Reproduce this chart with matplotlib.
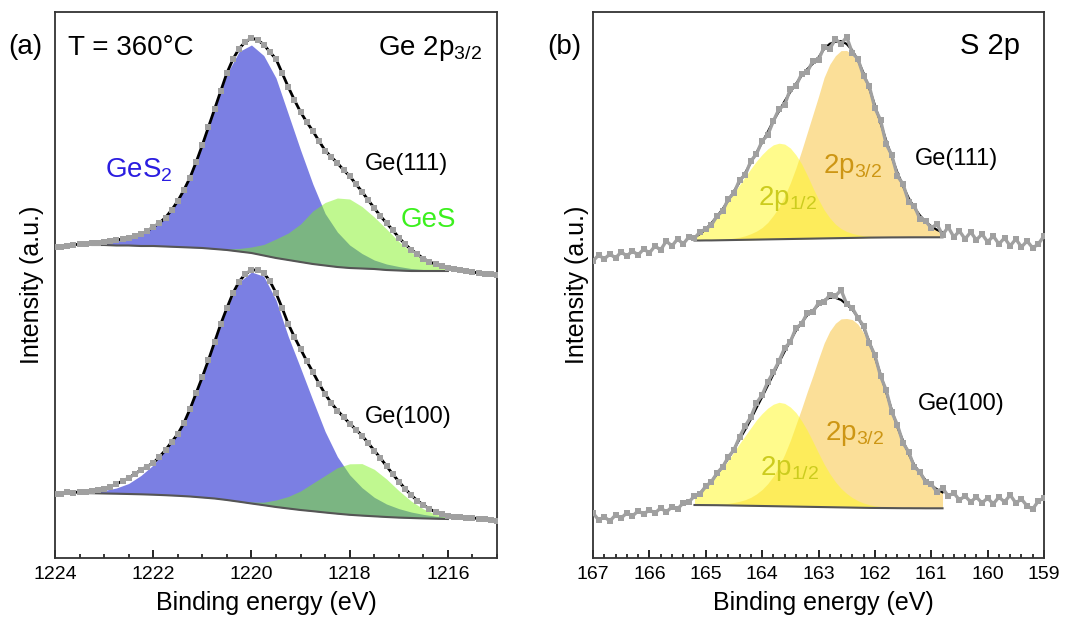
import matplotlib
matplotlib.use('Agg')
import matplotlib.pyplot as plt
import numpy as np
from matplotlib.ticker import MultipleLocator

plt.rcParams['font.family'] = ['Liberation Sans', 'DejaVu Sans']
plt.rcParams['mathtext.default'] = 'regular'

# ---------------- Ge 2p3/2 (panel a) ----------------
# fit grid (eV) and components, intensity in arbitrary units
ge_E_fit = np.linspace(1223.5, 1216.0, 31)
ge111_bg = [313.5, 313, 313, 312.5, 312.5, 312, 312, 311.5, 311, 310.5,
            310, 309, 308, 306.5, 305, 302.5, 300, 298, 296, 294,
            292.5, 291, 290, 289.5, 289, 288, 287.5, 287, 287, 287, 287]
ge111_ges2 = [1, 2, 3, 5, 8, 12, 19, 29, 46, 70,
              103, 140, 176, 200, 208, 200, 180, 146, 112, 80,
              52, 35, 23, 15, 9, 6, 4, 2.5, 1.5, 1, 0.5]
ge111_ges = [0, 0, 0, 0, 0, 0, 0, 0, 0, 0,
             0, 0, 1, 3, 6, 11, 19, 27, 38, 53,
             63, 69, 69, 62, 52, 41, 29, 19, 11, 6, 3]

ge100_bg = [65, 64.8, 64.5, 64.3, 64, 63.7, 63.3, 62.8, 62.2, 61.5,
            60.5, 59.5, 58, 56.3, 54.5, 52.8, 51, 49.5, 48, 46.8,
            45.5, 44.3, 43.2, 42.4, 41.7, 41, 40.4, 40, 39.6, 39.3, 39]
ge100_ges2 = [0.5, 1.5, 3, 5.7, 10.5, 18.8, 29.7, 45.2, 61.8, 87.5,
              120.5, 156.5, 192, 219.5, 231.5, 229, 207, 172, 142, 111,
              81, 57, 40, 28, 19, 13, 9, 6, 4, 2.5, 1.5]
ge100_ges = [0, 0, 0, 0, 0, 0, 0, 0, 0, 0,
             0, 0, 0.3, 0.7, 1.5, 3, 7, 12, 19, 28,
             37, 46, 51, 52, 47, 38, 27, 17, 9.5, 4.5, 2]

# measured spectra
ge_E_data = np.linspace(1224.0, 1215.0, 73)
ge111_data = [311, 311.5, 312, 313, 314, 314.5, 315, 315.5, 316, 317,
              318, 319, 320.5, 322, 324, 327, 331, 335, 340.5, 348,
              357, 368, 380.5, 396, 413, 431, 449, 467, 485, 499,
              509.5, 516, 520, 518, 513.5, 506, 499, 485, 471, 458,
              446, 436, 427, 417, 407.5, 401, 395, 388, 382, 374,
              366.5, 358, 350, 342, 335, 328, 320.5, 314, 308.5, 304,
              299.5, 296, 294, 292, 290.5, 289.5, 288, 287, 286, 285,
              284.5, 284, 283]
ge100_data = [64, 64.5, 66, 65.5, 66, 66.5, 67, 68, 69.5, 71.5,
              74, 77, 80, 84, 88, 91.5, 95, 101, 108, 116,
              124, 135, 149, 165, 181, 198, 216, 234, 250, 265,
              276.5, 284, 288, 288, 285, 277, 265, 250, 234, 221,
              209, 197, 186, 174.5, 164, 155, 147.5, 141, 134.5, 128.5,
              122.5, 115, 107.5, 100, 92, 84, 76.5, 69.5, 63, 57.5,
              53, 49, 46, 44, 42.5, 41.5, 41, 40.5, 40, 39.5,
              39, 38, 37]

# ---------------- S 2p (panel b) ----------------
s_E_fit = np.linspace(165.2, 160.8, 45)
s111_bg = [317.5, 317.5, 317.6, 317.6, 317.7, 317.8, 317.9, 318.0, 318.1, 318.2,
           318.3, 318.4, 318.5, 318.6, 318.7, 318.8, 318.9, 319.0, 319.1, 319.2,
           319.3, 319.4, 319.5, 319.6, 319.7, 319.8, 319.9, 320.0, 320.1, 320.2,
           320.3, 320.4, 320.45, 320.5, 320.55, 320.6, 320.62, 320.65, 320.68, 320.7,
           320.7, 320.7, 320.7, 320.7, 320.7]
s111_p12 = [3, 6.5, 11, 17, 23.5, 30.5, 38.5, 47, 55, 63,
            71, 78.5, 85, 90.5, 94.5, 96, 95, 91, 84, 75,
            63.5, 51, 39, 28.5, 20.5, 14, 9.5, 6.5, 4.5, 3,
            2, 1.4, 1, 0.7, 0.5, 0.4, 0.3, 0.2, 0.2, 0.1,
            0.1, 0.1, 0.1, 0, 0]
s111_p32 = [0.1, 0.1, 0.2, 0.3, 0.4, 0.7, 1.1, 1.8, 2.7, 4,
            6, 8.5, 12, 17, 24, 32, 43, 56, 71, 88,
            106, 124, 142, 161, 174, 182.5, 187.5, 187.5, 183, 174.5,
            162.5, 148, 131.5, 114, 96.5, 80, 64.5, 51, 39, 29.5,
            21.7, 15.5, 11, 7.5, 5]

s100_bg = [53.0, 52.95, 52.9, 52.85, 52.8, 52.7, 52.6, 52.5, 52.4, 52.3,
           52.2, 52.1, 52.0, 51.9, 51.8, 51.7, 51.6, 51.5, 51.4, 51.3,
           51.2, 51.1, 51.0, 50.9, 50.8, 50.7, 50.6, 50.5, 50.4, 50.3,
           50.2, 50.1, 50.05, 50.0, 49.95, 49.9, 49.85, 49.8, 49.8, 49.75,
           49.75, 49.7, 49.7, 49.7, 49.7]
s100_p12 = [8, 12, 17.5, 23.5, 30, 37.5, 45, 53.5, 62, 70,
            78, 86, 92.5, 98, 102, 104, 103, 99.5, 94, 86,
            76.5, 65.5, 54, 43, 33.5, 25.5, 19, 14, 10, 7,
            4.8, 3.2, 2.1, 1.4, 1, 0.7, 0.5, 0.4, 0.3, 0.2,
            0.15, 0.1, 0.1, 0.05, 0]
s100_p32 = [0.2, 0.3, 0.4, 0.6, 0.9, 1.3, 2, 3, 4.3, 6,
            8.5, 12, 16.5, 22.5, 30, 40, 52, 66, 82, 98,
            115, 131, 148, 164, 176, 184, 188.5, 189, 188, 183.5,
            175, 163.5, 149, 132.5, 115, 97.5, 80.5, 67, 54, 43,
            35, 28, 23, 19, 16]

s_E_data = np.linspace(167.0, 159.0, 81)
s111_data = [297, 303, 299, 304, 300, 306, 302, 307, 303, 309,
             305, 312, 308, 317, 312, 319, 314, 321, 320, 326,
             329, 333, 342, 347, 359, 365, 378, 383, 397, 404,
             417, 423, 437, 449, 453, 469, 472, 484, 486, 497,
             498, 511, 509, 519, 514, 521, 505, 499, 482, 472,
             450, 438, 414, 403, 382, 374, 356, 352, 339, 337,
             330, 334, 323, 331, 321, 327, 319, 326, 318, 324,
             316, 322, 314, 320, 312, 319, 311, 317, 310, 314,
             322]
s100_data = [45, 38, 41, 37, 43, 40, 45, 42, 47, 44,
             48, 45, 50, 46, 51, 49, 55, 56, 62, 64,
             72, 76, 85, 91, 101, 108, 121, 132, 141, 155,
             163, 176, 186, 197, 210, 216, 230, 234, 245, 246,
             255, 256, 263, 262, 268, 254, 250, 240, 232, 215,
             203, 182, 168, 146, 133, 115, 106, 91, 86, 76,
             74, 66, 70, 62, 65, 58, 62, 56, 61, 55,
             60, 54, 61, 56, 63, 55, 59, 52, 49, 57,
             60]

BLUE = '#7b7fe3'
GREEN = '#7cf218'
ORANGE = '#fbdf98'
YELLOW = '#fff926'
GRAY = '#a0a0a0'

fig = plt.figure(figsize=(10.7, 6.17), dpi=100)
ax_a = fig.add_axes([55/1070, 59/617, 442/1070, 546/617])
ax_b = fig.add_axes([593/1070, 59/617, 451/1070, 546/617])

# panel (a)
for bg, c1, c2, data in [(ge111_bg, ge111_ges2, ge111_ges, ge111_data),
                         (ge100_bg, ge100_ges2, ge100_ges, ge100_data)]:
    bg = np.array(bg)
    ax_a.fill_between(ge_E_fit, bg, bg + np.array(c1), color=BLUE, lw=0, zorder=1)
    ax_a.fill_between(ge_E_fit, bg, bg + np.array(c2), color=GREEN, alpha=0.48, lw=0, zorder=2)
    ax_a.plot(ge_E_fit, bg, color='#555555', lw=1.5, zorder=3)
    ax_a.plot(ge_E_data, data, color='black', lw=2, zorder=4)
    ax_a.plot(ge_E_data, data, 's', color=GRAY, ms=3.8, mew=0, zorder=5)

# panel (b)
for bg, p12, p32, data in [(s111_bg, s111_p12, s111_p32, s111_data),
                           (s100_bg, s100_p12, s100_p32, s100_data)]:
    bg = np.array(bg)
    ax_b.fill_between(s_E_fit, bg, bg + np.array(p32), color=ORANGE, lw=0, zorder=1)
    ax_b.fill_between(s_E_fit, bg, bg + np.array(p12), color=YELLOW, alpha=0.53, lw=0, zorder=2)
    ax_b.plot(s_E_fit, bg, color='#555555', lw=1.5, zorder=3)
    env = bg + np.array(p12) + np.array(p32)
    ax_b.plot(s_E_fit, env, color='black', lw=1.6, zorder=3.5)
    ax_b.plot(s_E_data, data, '-s', color=GRAY, lw=2.4, ms=4.5, mew=0, zorder=4)

ax_a.set_xlim(1224, 1215)
ax_a.xaxis.set_major_locator(MultipleLocator(2))
ax_a.xaxis.set_minor_locator(MultipleLocator(0.5))
ax_b.set_xlim(167, 159)
ax_b.xaxis.set_major_locator(MultipleLocator(1))
ax_b.xaxis.set_minor_locator(MultipleLocator(0.2))

for ax in (ax_a, ax_b):
    ax.set_ylim(0, 546)
    ax.set_yticks([])
    ax.tick_params(axis='x', which='major', direction='in', length=5.5, width=1.2,
                   labelsize=14, pad=6)
    ax.tick_params(axis='x', which='minor', direction='in', length=3, width=1.1)
    for sp in ax.spines.values():
        sp.set_linewidth(1.3)
        sp.set_color('#333333')
    ax.set_xlabel('Binding energy (eV)', fontsize=18, labelpad=2)

ax_a.set_ylabel('Intensity (a.u.)', fontsize=18, labelpad=8)
ax_b.set_ylabel('Intensity (a.u.)', fontsize=18, labelpad=3)
ax_a.xaxis.set_label_coords(0.478, -0.082)
ax_b.xaxis.set_label_coords(0.51, -0.082)
ax_a.xaxis.label.set_verticalalignment('center')
ax_b.xaxis.label.set_verticalalignment('center')

# annotations panel (a)
fig.text(8/1070, 1 - 47/617, '(a)', fontsize=20, va='center', ha='left')
ax_a.text(0.029, 0.921, 'T = 360\u00b0C', fontsize=20, transform=ax_a.transAxes, va='baseline')
ax_a.text(0.966, 0.921, 'Ge 2p$_{3/2}$', fontsize=20, transform=ax_a.transAxes,
          va='baseline', ha='right')
ax_a.text(0.113, 0.696, 'GeS$_2$', fontsize=20, color='#2b1de0', transform=ax_a.transAxes,
          va='baseline')
ax_a.text(0.781, 0.606, 'GeS', fontsize=20, color='#3cf01e', transform=ax_a.transAxes,
          va='baseline')
ax_a.text(0.701, 0.711, 'Ge(111)', fontsize=17, transform=ax_a.transAxes, va='baseline')
ax_a.text(0.701, 0.247, 'Ge(100)', fontsize=17, transform=ax_a.transAxes, va='baseline')

# annotations panel (b)
fig.text(547/1070, 1 - 47/617, '(b)', fontsize=20, va='center', ha='left')
ax_b.text(0.947, 0.923, 'S 2p', fontsize=21, transform=ax_b.transAxes, va='baseline', ha='right')
ax_b.text(0.714, 0.72, 'Ge(111)', fontsize=17, transform=ax_b.transAxes, va='baseline')
ax_b.text(0.721, 0.271, 'Ge(100)', fontsize=17, transform=ax_b.transAxes, va='baseline')
ax_b.text(0.51, 0.705, '2p$_{3/2}$', fontsize=20, color='#cd9614', transform=ax_b.transAxes,
          va='baseline')
ax_b.text(0.366, 0.647, '2p$_{1/2}$', fontsize=20, color='#cccc1e', transform=ax_b.transAxes,
          va='baseline')
ax_b.text(0.514, 0.216, '2p$_{3/2}$', fontsize=20, color='#cd9614', transform=ax_b.transAxes,
          va='baseline')
ax_b.text(0.37, 0.152, '2p$_{1/2}$', fontsize=20, color='#cccc1e', transform=ax_b.transAxes,
          va='baseline')

fig.savefig('out.png', dpi=100)
